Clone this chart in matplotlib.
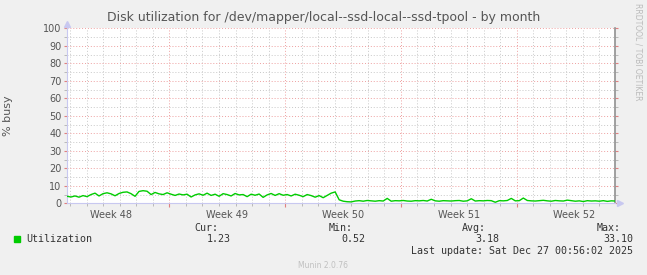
import numpy as np
import matplotlib.pyplot as plt
from matplotlib.ticker import FixedLocator, MultipleLocator, NullFormatter

# utilization in % busy, one sample every ~5.8 hours, oldest first
util_before = [4.0, 3.6, 4.2, 3.5, 4.4, 3.8, 5.0, 5.8, 4.2, 5.5, 6.0, 5.4, 4.3, 5.6,
               6.3, 6.5, 5.5, 4.0, 6.8, 7.2, 6.9, 5.0, 6.2, 5.4, 5.0, 6.0, 5.2, 4.5,
               5.3, 4.8, 5.2, 3.6, 4.8, 5.4, 4.6, 5.8, 4.5, 5.2, 4.0, 5.5, 5.0, 4.2,
               5.6, 4.8, 5.0, 3.8, 5.2, 4.6, 5.3, 3.4, 4.8, 5.6, 4.5, 5.5, 4.6, 5.0,
               4.2, 5.2, 4.6, 3.8, 5.0, 4.4, 3.5, 4.4, 3.2, 4.5, 5.8, 6.5]
util_after = [2.0, 1.2, 0.9, 0.8, 1.3, 1.5, 1.2, 1.6, 1.4, 1.2, 1.5, 1.3, 2.8, 1.2,
              1.5, 1.4, 1.6, 1.3, 1.2, 1.5, 1.4, 1.6, 1.3, 2.3, 1.4, 1.2, 1.5, 1.4,
              1.3, 1.5, 1.6, 1.2, 1.4, 2.6, 1.3, 1.5, 1.4, 1.6, 1.5, 0.6, 1.5, 1.4,
              1.6, 2.8, 1.4, 1.5, 3.0, 1.6, 1.4, 1.3, 1.5, 1.7, 1.4, 1.2, 1.6, 1.4,
              1.3, 1.8, 1.5, 1.2, 1.4, 1.0, 1.5, 1.3, 1.4, 1.2, 1.5, 1.1, 1.4, 1.3]
util = util_before + util_after

week_labels = ["Week 48", "Week 49", "Week 50", "Week 51", "Week 52"]
week_starts = [6.19, 13.19, 20.19, 27.19]   # days from left edge
span_days = 33.15

legend_cols = ["Cur:", "Min:", "Avg:", "Max:"]
legend_vals = ["1.23", "0.52", "3.18", "33.10"]

step = 0.242
days = np.arange(len(util)) * step

fig = plt.figure(figsize=(6.47, 2.75), dpi=100, facecolor="#f0f0f0")
ax = fig.add_axes([67 / 647, 71.7 / 275, 548.3 / 647, 175 / 275])
ax.set_facecolor("white")

ax.plot(days, util, color="#00cc00", lw=1.0, zorder=5)

ax.set_xlim(0, span_days)
ax.set_ylim(0, 100)

# grid like rrdtool: gray dotted minor, red dotted major
minor_days = np.arange(0.19, span_days, 1.0)
ax.xaxis.set_minor_locator(FixedLocator(minor_days))
ax.xaxis.set_major_locator(FixedLocator(week_starts))
ax.xaxis.set_major_formatter(NullFormatter())
ax.yaxis.set_major_locator(FixedLocator(range(0, 101, 10)))
ax.yaxis.set_minor_locator(FixedLocator(range(5, 100, 10)))
ax.grid(which="minor", color="#c8c8c8", lw=0.7, ls=(0, (1, 2)))
ax.grid(which="major", color="#eea0a0", lw=0.7, ls=(0, (1, 2)))
ax.set_axisbelow(True)

ax.tick_params(axis="both", which="both", colors="#555555", labelsize=7)
ax.tick_params(axis="x", which="major", length=3, color="#e08080", direction="out")
ax.tick_params(axis="x", which="minor", length=2, color="#b0b0b0")
ax.tick_params(axis="y", which="major", length=2, color="#e08080", pad=2, right=True)
ax.tick_params(axis="y", which="minor", length=2, color="#b0b0b0", right=True)

week_centers = [w - 3.5 for w in week_starts] + [week_starts[-1] + 3.5]
for c, lab in zip(week_centers, week_labels):
    ax.text(c, -4, lab, ha="center", va="top", fontsize=7, color="#555555")

ax.spines["top"].set_visible(False)
ax.spines["left"].set_color("#c8c8f0")
ax.spines["bottom"].set_color("#c8c8f0")
ax.spines["right"].set_color("#909090")
ax.spines["right"].set_linewidth(1.2)
# axis arrows
ax.plot([0], [102.5], marker="^", ms=4, color="#c8c8f0", clip_on=False)
ax.plot([span_days + 0.3], [0], marker=">", ms=4, color="#c8c8f0", clip_on=False)

ax.set_ylabel("% busy", fontsize=8, color="#555555", labelpad=22)

fig.text(0.5, 1 - 18 / 275, "Disk utilization for /dev/mapper/local--ssd-local--ssd-tpool - by month",
         ha="center", va="center", fontsize=9, color="#555555")
fig.text(638 / 647, 1 - 52 / 275, "RRDTOOL / TOBI OETIKER", rotation=270,
         ha="center", va="center", fontsize=5.5, color="#bbbbbb")

# legend block
mono = "DejaVu Sans Mono"
fig.patches.append(plt.Rectangle((14 / 647, 1 - 242 / 275), 6 / 647, 6 / 275,
                                 transform=fig.transFigure, color="#00cc00"))
fig.text(26 / 647, 1 - 239 / 275, "Utilization", ha="left", va="center",
         fontsize=7.2, family=mono, color="#333333")
col_right = [218, 353, 486, 621]
val_right = [231, 365, 499, 633]
for cx, vx, h, v in zip(col_right, val_right, legend_cols, legend_vals):
    fig.text(cx / 647, 1 - 228 / 275, h, ha="right", va="center",
             fontsize=7.2, family=mono, color="#333333")
    fig.text(vx / 647, 1 - 239 / 275, v, ha="right", va="center",
             fontsize=7.2, family=mono, color="#333333")
fig.text(633 / 647, 1 - 251 / 275, "Last update: Sat Dec 27 00:56:02 2025",
         ha="right", va="center", fontsize=7.2, family=mono, color="#333333")
fig.text(323 / 647, 1 - 265 / 275, "Munin 2.0.76", ha="center", va="center",
         fontsize=5.5, color="#c0c0c0")

fig.savefig("out.png", dpi=100, facecolor=fig.get_facecolor())
